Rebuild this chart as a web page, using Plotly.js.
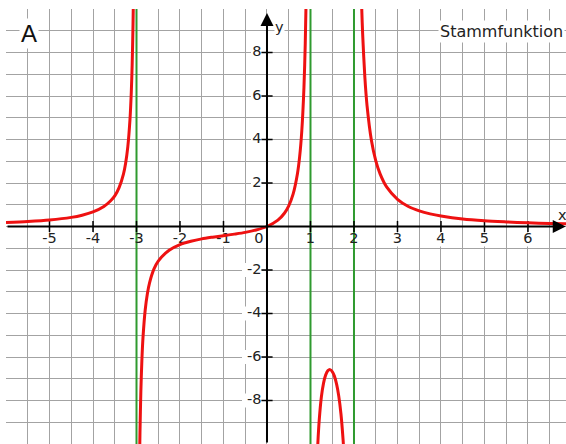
<!DOCTYPE html>
<html>
<head>
<meta charset="utf-8">
<script src="https://cdn.plot.ly/plotly-3.0.1.min.js"></script>
<style>
  html, body { margin: 0; padding: 0; background: #ffffff; }
  #chart { width: 566px; height: 444px; }
</style>
</head>
<body>
<div id="chart"></div>
<script>
// Graph of the antiderivative, one branch per interval between the poles
const branch1X = [-6, -5.5, -5, -4.5, -4.25, -4, -3.75, -3.6, -3.5, -3.4, -3.3, -3.25, -3.2, -3.15, -3.12, -3.1, -3.08, -3.07];
const branch1Y = [0.18, 0.23, 0.3, 0.42, 0.52, 0.67, 0.92, 1.17, 1.41, 1.79, 2.41, 2.91, 3.66, 4.91, 6.16, 7.41, 9.29, 10.6];

const branch2X = [-2.93, -2.92, -2.9, -2.875, -2.85, -2.8, -2.75, -2.7, -2.6, -2.5, -2.25, -2, -1.75, -1.5, -1.25, -1, -0.75, -0.5, -0.25, 0, 0.25, 0.4, 0.5, 0.6, 0.7, 0.75, 0.8, 0.85, 0.88, 0.9];
const branch2Y = [-10.8, -9.46, -7.59, -6.09, -5.09, -3.84, -3.09, -2.59, -1.96, -1.59, -1.09, -0.83, -0.68, -0.57, -0.49, -0.42, -0.35, -0.27, -0.16, 0, 0.29, 0.61, 0.95, 1.49, 2.43, 3.2, 4.39, 6.4, 8.44, 10.49];

const branch3X = [1.15, 1.17, 1.2, 1.25, 1.3, 1.35, 1.4, 1.45, 1.5, 1.55, 1.6, 1.65, 1.7, 1.75, 1.77];
const branch3Y = [-10.87, -9.94, -8.93, -7.84, -7.2, -6.82, -6.63, -6.58, -6.67, -6.88, -7.25, -7.8, -8.61, -9.82, -10.48];

const branch4X = [2.15, 2.18, 2.2, 2.25, 2.3, 2.4, 2.5, 2.6, 2.75, 3, 3.25, 3.5, 3.75, 4, 4.5, 5, 5.5, 6, 6.5, 7];
const branch4Y = [12.1, 9.91, 8.81, 6.86, 5.56, 3.97, 3.03, 2.42, 1.82, 1.25, 0.92, 0.72, 0.58, 0.48, 0.34, 0.26, 0.21, 0.17, 0.14, 0.12];

// Vertical asymptotes
const asymptoteX = [-3, 1, 2];

// Axis ticks and labels
const xTickVals = [-5, -4, -3, -2, -1, 1, 2, 3, 4, 5, 6];
const yTickVals = [-8, -6, -4, -2, 2, 4, 6, 8];
const originLabel = '0';
const panelLabel = 'A';
const titleText = 'Stammfunktion';
const xAxisName = 'x';
const yAxisName = 'y';

const X_MIN = -6, X_MAX = 6.874, Y_MIN = -10, Y_MAX = 10;
const PLOT_W = 560, PLOT_H = 435;
const PX_X = (X_MAX - X_MIN) / PLOT_W;   // data units per pixel
const PX_Y = (Y_MAX - Y_MIN) / PLOT_H;
const FONT = 'DejaVu Sans, Verdana, sans-serif';
const RED = '#ee1111';
const GREEN = '#2f9a2f';
const labelFont = { family: FONT, size: 14.5, color: '#222' };

// Asymptotes as one broken line
const asX = [], asY = [];
asymptoteX.forEach(a => { asX.push(a, a, null); asY.push(Y_MIN, Y_MAX, null); });

const curveX = [...branch1X, null, ...branch2X, null, ...branch3X, null, ...branch4X];
const curveY = [...branch1Y, null, ...branch2Y, null, ...branch3Y, null, ...branch4Y];

const xLabelY = -13 * PX_Y;       // label centre below the x axis
const yLabelX = -5.5 * PX_X;      // label right edge left of the y axis

const tickMarker = sym => ({ symbol: sym, size: 8, color: '#000', line: { color: '#000', width: 1.5 } });

const traces = [
  { x: asX, y: asY, mode: 'lines', line: { color: GREEN, width: 2 }, hoverinfo: 'skip', connectgaps: false },
  { x: xTickVals, y: xTickVals.map(() => 0), mode: 'markers', hoverinfo: 'skip', marker: tickMarker('line-ns-open') },
  { x: yTickVals.map(() => 0), y: yTickVals, mode: 'markers', hoverinfo: 'skip', marker: tickMarker('line-ew-open') },
  { x: xTickVals, y: xTickVals.map(() => xLabelY), mode: 'text', text: xTickVals.map(String),
    textposition: 'middle center', textfont: labelFont, hoverinfo: 'skip' },
  { x: yTickVals.map(() => yLabelX), y: yTickVals, mode: 'text', text: yTickVals.map(String),
    textposition: 'middle left', textfont: labelFont, hoverinfo: 'skip' },
  { x: [-3.5 * PX_X], y: [xLabelY], mode: 'text', text: [originLabel],
    textposition: 'middle left', textfont: labelFont, hoverinfo: 'skip' },
  { x: curveX, y: curveY, mode: 'lines', connectgaps: false, hoverinfo: 'skip',
    line: { color: RED, width: 3, shape: 'spline', smoothing: 0.8 } }
];

// white patches behind the tick labels, above the grid
const shapes = [];
const charW = 9;
xTickVals.forEach(v => {
  const hw = String(v).length * charW / 2 + 1;
  shapes.push({ type: 'rect', layer: 'between', xref: 'x', yref: 'y',
    xsizemode: 'pixel', xanchor: v, x0: -hw, x1: hw,
    ysizemode: 'pixel', yanchor: 0, y0: -20, y1: -6,
    fillcolor: '#ffffff', line: { width: 0 } });
});
yTickVals.forEach(v => {
  const w = String(v).length * charW + 2;
  shapes.push({ type: 'rect', layer: 'between', xref: 'x', yref: 'y',
    xsizemode: 'pixel', xanchor: 0, x0: -5 - w, x1: -5,
    ysizemode: 'pixel', yanchor: v, y0: -7, y1: 7,
    fillcolor: '#ffffff', line: { width: 0 } });
});
shapes.push({ type: 'rect', layer: 'between', xref: 'x', yref: 'y',
  xsizemode: 'pixel', xanchor: 0, x0: -14, x1: -3,
  ysizemode: 'pixel', yanchor: 0, y0: -20, y1: -6,
  fillcolor: '#ffffff', line: { width: 0 } });

const annotations = [];
// axes drawn as arrows
annotations.push({ x: X_MAX - 0.005, y: 0, ax: X_MIN, ay: 0, xref: 'x', yref: 'y', axref: 'x', ayref: 'y',
  text: '', showarrow: true, arrowhead: 2, arrowsize: 1.3, arrowwidth: 2, arrowcolor: '#000' });
annotations.push({ x: 0, y: 9.82, ax: 0, ay: Y_MIN, xref: 'x', yref: 'y', axref: 'x', ayref: 'y',
  text: '', showarrow: true, arrowhead: 2, arrowsize: 1.3, arrowwidth: 2, arrowcolor: '#000' });

annotations.push({ x: 0, y: 9.82, xref: 'x', yref: 'y', text: yAxisName, showarrow: false,
  xanchor: 'left', yanchor: 'top', xshift: 7, yshift: -5, font: labelFont, bgcolor: '#ffffff', borderpad: 0 });
annotations.push({ x: X_MAX, y: 0, xref: 'x', yref: 'y', text: xAxisName, showarrow: false,
  xanchor: 'right', yanchor: 'bottom', xshift: 2, yshift: 3, font: labelFont, borderpad: 0 });

annotations.push({ x: 0.024, y: 0.944, xref: 'paper', yref: 'paper', text: panelLabel, showarrow: false,
  xanchor: 'left', yanchor: 'middle', font: { family: 'Liberation Sans, Arial, sans-serif', size: 24, color: '#111' },
  bgcolor: '#ffffff', borderpad: 1 });
annotations.push({ x: 0.9985, y: 0.949, xref: 'paper', yref: 'paper', text: titleText, showarrow: false,
  xanchor: 'right', yanchor: 'middle', font: { family: FONT, size: 16, color: '#222' }, bgcolor: '#ffffff', borderpad: 1 });

const layout = {
  width: 566, height: 444,
  margin: { l: 6, r: 0, t: 9, b: 0, pad: 0 },
  paper_bgcolor: '#ffffff', plot_bgcolor: '#ffffff',
  showlegend: false,
  xaxis: { range: [X_MIN, X_MAX], tick0: 0, dtick: 0.5, showgrid: true, gridcolor: '#a3a3a3', gridwidth: 1,
    zeroline: false, showticklabels: false, ticks: '', showline: false, fixedrange: true },
  yaxis: { range: [Y_MIN, Y_MAX], tick0: 0, dtick: 1, showgrid: true, gridcolor: '#a3a3a3', gridwidth: 1,
    zeroline: false, showticklabels: false, ticks: '', showline: false, fixedrange: true },
  shapes: shapes,
  annotations: annotations
};

Plotly.newPlot('chart', traces, layout, { staticPlot: true, displayModeBar: false });
</script>
</body>
</html>
